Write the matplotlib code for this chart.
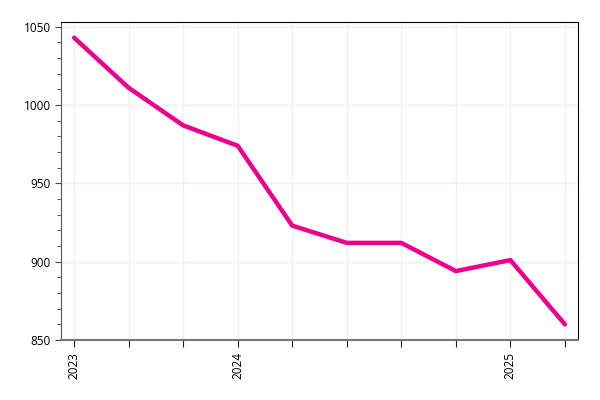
import matplotlib.pyplot as plt
import numpy as np

plt.rcParams['font.family'] = ['Open Sans', 'DejaVu Sans']

# data
values = [1043, 1011, 987, 974, 923, 912, 912, 894, 901, 860]
tick_labels = ['2023', '', '', '2024', '', '', '', '', '2025', '']

x = np.arange(len(values))

fig = plt.figure(figsize=(6, 4), dpi=100)
ax = fig.add_axes([0.1017, 0.15, 0.8616, 0.795])

ax.plot(x, values, color='#EC008C', linewidth=3.2, solid_capstyle='round',
        solid_joinstyle='round', zorder=3)

ax.set_xlim(-0.24, 9.24)
ax.set_ylim(850, 1053)
ax.set_xticks(x)
ax.set_xticklabels(tick_labels, rotation=90, fontsize=8.5)
ax.set_yticks([850, 900, 950, 1000, 1050])
ax.set_yticks(np.arange(850, 1051, 10), minor=True)
ax.tick_params(axis='y', labelsize=8.5, length=4, color='#444444')
ax.tick_params(axis='y', which='minor', length=3, color='#444444')
ax.tick_params(axis='x', length=5, color='#222222')

ax.grid(True, which='major', color='#f0f0f0', linewidth=1, zorder=0)

ax.spines['left'].set_color('#555555')
ax.spines['bottom'].set_color('#777777')
ax.spines['bottom'].set_linewidth(1.5)
ax.spines['top'].set_color('black')
ax.spines['right'].set_color('black')

fig.savefig('out.png', dpi=100)
